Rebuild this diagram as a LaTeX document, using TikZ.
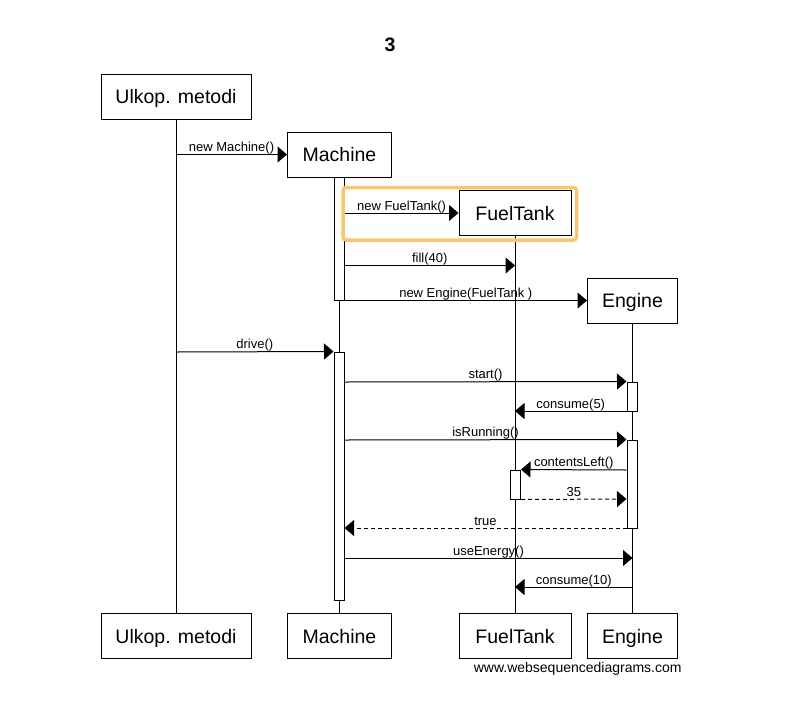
\documentclass[tikz,border=0pt]{standalone}
\usepackage{fontspec}
\setmainfont{Liberation Sans}
\usetikzlibrary{arrows.meta}
\definecolor{hilite}{RGB}{248,198,110}
\begin{document}
\begin{tikzpicture}[x=1pt,y=-1pt,
  actor/.style={draw, line width=1pt, fill=white, inner sep=0pt,
    text height=14pt, text depth=0pt,
    font=\fontsize{19.5}{22}\selectfont},
  lifeline/.style={line width=1pt},
  actbar/.style={draw, line width=1pt, fill=white, inner sep=0pt, minimum width=10pt},
  msg/.style={line width=1pt, -{Triangle[length=9.5pt,width=16pt]}},
  reply/.style={msg, dash pattern=on 4pt off 3pt},
  msglabel/.style={font=\fontsize{13}{15}\selectfont, anchor=base, inner sep=0pt, yshift=3pt},
]
\useasboundingbox (0,0) rectangle (809,713);

% title
\node[font=\bfseries\fontsize{19.5}{22}\selectfont, anchor=base] (title) at (390,51) {3};

% participants, top row
\node[actor, minimum width=150pt, minimum height=45pt] (uTop) at (176,96.5) {Ulkop. metodi};
\node[actor, minimum width=104pt, minimum height=45pt] (mTop) at (339.5,154.5) {Machine};
\node[actor, minimum width=112pt, minimum height=45pt] (fTop) at (515,213) {FuelTank};
\node[actor, minimum width=90pt, minimum height=45pt] (eTop) at (632.5,300.5) {Engine};

% participants, bottom row
\node[actor, minimum width=150pt, minimum height=45pt] (uBot) at (176,636) {Ulkop. metodi};
\node[actor, minimum width=104pt, minimum height=45pt] (mBot) at (339.5,636) {Machine};
\node[actor, minimum width=112pt, minimum height=45pt] (fBot) at (515,636) {FuelTank};
\node[actor, minimum width=90pt, minimum height=45pt] (eBot) at (632.5,636) {Engine};

% lifelines
\draw[lifeline] (uTop.south) -- (uBot.north);
\draw[lifeline] (mTop.south) -- (mBot.north);
\draw[lifeline] (fTop.south) -- (fBot.north);
\draw[lifeline] (eTop.south) -- (eBot.north);

% activation bars
\node[actbar, minimum height=123pt] (mBar1) at (339,238.5) {};
\node[actbar, minimum height=248pt] (mBar2) at (339,476) {};
\node[actbar, minimum height=29pt] (eBar1) at (632,396.5) {};
\node[actbar, minimum height=88pt] (eBar2) at (632,484) {};
\node[actbar, minimum height=29pt] (fBar) at (515.5,484.5) {};

% message end points
\coordinate (a1) at (uTop.south |- 0,154.5);
\coordinate (a2) at (mBar1.east |- 0,213);
\coordinate (a3) at (mBar1.east |- 0,265.5);
\coordinate (b3) at (fTop.south |- 0,265.5);
\coordinate (a4) at (mBar1.east |- 0,300.5);
\coordinate (a5) at (uTop.south |- 0,352);
\coordinate (a6) at (mBar2.east |- 0,382);
\coordinate (a7) at (eBar1.west |- 0,411);
\coordinate (b7) at (fTop.south |- 0,411);
\coordinate (a8) at (mBar2.east |- 0,440);
\coordinate (a9) at (eBar2.west |- 0,470);
\coordinate (b10) at (eBar2.west |- 0,499);
\coordinate (a11) at (eBar2.west |- 0,528);
\coordinate (b11) at (mBar2.east |- 0,528);
\coordinate (a12) at (mBar2.east |- 0,558);
\coordinate (b12) at (eTop.south |- 0,558);
\coordinate (a13) at (eTop.south |- 0,587);
\coordinate (b13) at (fTop.south |- 0,587);

% messages
\draw[msg] (a1) -- node[msglabel] {new Machine()} (mTop.west);
\draw[msg] (a2) -- node[msglabel] {new FuelTank()} (fTop.west);
\draw[msg] (a3) -- node[msglabel] {fill(40)} (b3);
\draw[msg] (a4) -- node[msglabel] {new Engine(FuelTank )} (eTop.west);
\draw[msg] (a5) -- node[msglabel] {drive()} (mBar2.north west);
\draw[msg] (a6) -- node[msglabel] {start()} (eBar1.north west);
\draw[msg] (a7) -- node[msglabel] {consume(5)} (b7);
\draw[msg] (a8) -- node[msglabel] {isRunning()} (eBar2.north west);
\draw[msg] (a9) -- node[msglabel] {contentsLeft()} (fBar.north east);
\draw[reply] (fBar.south east) -- node[msglabel] {35} (b10);
\draw[reply] (a11) -- node[msglabel] {true} (b11);
\draw[msg] (a12) -- node[msglabel] {useEnergy()} (b12);
\draw[msg] (a13) -- node[msglabel] {consume(10)} (b13);

% highlight around the FuelTank creation
\draw[hilite, line width=3.5pt, rounded corners=3pt] (343,187.5) rectangle (576.5,240);

% footer
\node[font=\fontsize{14}{16}\selectfont, anchor=base] (wsd) at (577.7,672.5) {www.websequencediagrams.com};
\end{tikzpicture}
\end{document}
